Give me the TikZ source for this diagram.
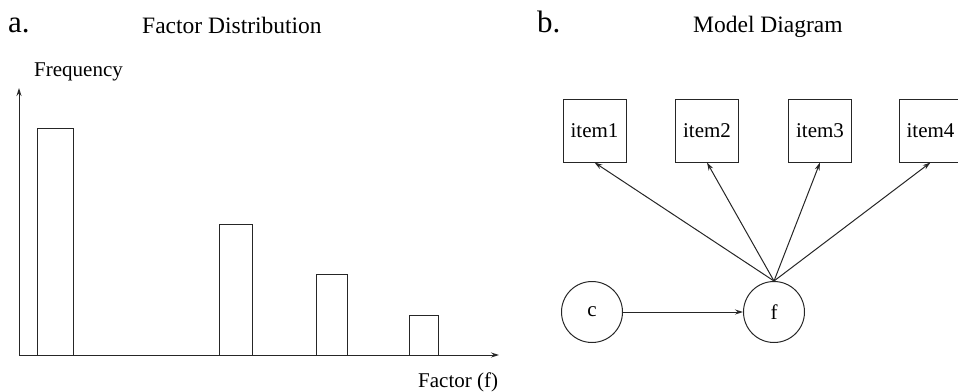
\documentclass[tikz,border=0pt]{standalone}
\usepackage{fontspec}
\setmainfont{Liberation Serif}
\usetikzlibrary{arrows.meta}
\begin{document}
\begin{tikzpicture}[x=1pt,y=-1pt,
  ln/.style={line width=1pt, black!85},
  arr/.style={ln, -{Stealth[length=8pt,width=5pt]}},
  bar/.style={ln},
  itembox/.style={draw, ln, text=black, minimum width=63pt, minimum height=63pt, inner sep=0pt, font=\fontsize{21}{24}\selectfont},
  latent/.style={draw, ln, text=black, circle, minimum size=61pt, inner sep=0pt, font=\fontsize{21}{24}\selectfont},
  lbl/.style={anchor=base west, inner sep=0pt, font=\fontsize{21}{24}\selectfont},
  ttl/.style={anchor=base west, inner sep=0pt, font=\fontsize{23.5}{26}\selectfont},
  pnl/.style={anchor=base west, inner sep=0pt, font=\fontsize{31}{34}\selectfont}]
\useasboundingbox (0,0) rectangle (958,391);
% panel a
\node[pnl] (pa) at (8,32) {a.};
\node[ttl] (ta) at (142,33) {Factor Distribution};
\node[lbl] (ylab) at (34,76) {Frequency};
\node[lbl] (xlab) at (418,387) {Factor (f)};
\coordinate (o) at (19,355);
\coordinate (ye) at (19,88);
\coordinate (xe) at (499,355);
\draw[arr] (o) -- (ye);
\draw[arr] (o) -- (xe);
\draw[bar] (37,355) rectangle (73,128);
\draw[bar] (219,355) rectangle (252,224);
\draw[bar] (316,355) rectangle (347,274);
\draw[bar] (409,355) rectangle (438,315);
% panel b
\node[pnl] (pb) at (537,32) {b.};
\node[ttl] (tb) at (693,32) {Model Diagram};
\node[itembox] (i1) at (594.5,130.5) {item1};
\node[itembox] (i2) at (707,130.5) {item2};
\node[itembox] (i3) at (820,130.5) {item3};
\node[itembox] (i4) at (930.5,130.5) {item4};
\node[latent] (c) at (592,312) {c};
\node[latent] (f) at (774,312) {f};
\draw[arr] (c) -- (f);
\foreach \i in {1,...,4} \draw[arr] (f.north) -- (i\i.south);
\end{tikzpicture}
\end{document}
